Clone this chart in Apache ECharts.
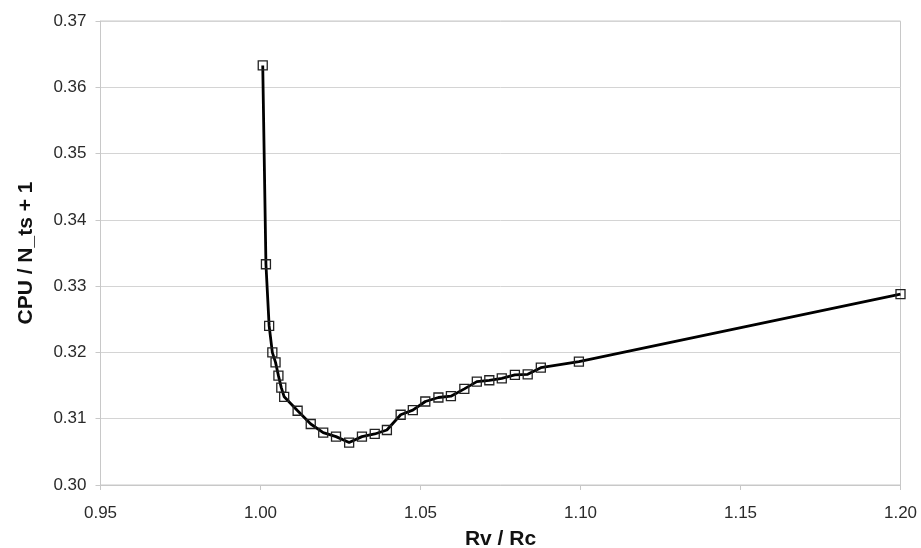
<!DOCTYPE html>
<html>
<head>
<meta charset="utf-8">
<script src="https://cdn.jsdelivr.net/npm/echarts@6/dist/echarts.min.js"></script>
<style>html,body{margin:0;padding:0;background:#fff;}#chart{width:921px;height:548px;}</style>
</head>
<body>
<div id="chart"></div>
<script>
const rvRc = [1.0007, 1.0017, 1.0027, 1.0037, 1.0047, 1.0056, 1.0065, 1.0074, 1.0116, 1.0157, 1.0196, 1.0236, 1.0277, 1.0317, 1.0357, 1.0395, 1.0438, 1.0476, 1.0515, 1.0556, 1.0595, 1.0637, 1.0676, 1.0715, 1.0754, 1.0795, 1.0835, 1.0876, 1.0995, 1.2000];
const cpu  = [0.3633, 0.3333, 0.3240, 0.3200, 0.3185, 0.3165, 0.3147, 0.3133, 0.3112, 0.3092, 0.3079, 0.3073, 0.3064, 0.3073, 0.3077, 0.3083, 0.3106, 0.3113, 0.3126, 0.3132, 0.3134, 0.3145, 0.3156, 0.3158, 0.3161, 0.3166, 0.3167, 0.3177, 0.3186, 0.3288];
const xTitle = 'Rv / Rc';
const yTitle = 'CPU / N_ts + 1';

const chart = echarts.init(document.getElementById('chart'));
const font = '"Liberation Sans", Arial, sans-serif';
chart.setOption({
  animation: false,
  backgroundColor: '#fff',
  grid: { left: 100.5, right: 20.5, top: 21, bottom: 63, containLabel: false, outerBoundsMode: 'none', show: true, borderColor: '#c8c8c8', borderWidth: 1, backgroundColor: 'transparent' },
  xAxis: {
    type: 'value', min: 0.95, max: 1.2, interval: 0.05,
    name: xTitle, nameLocation: 'middle', nameGap: 44,
    nameTextStyle: { fontFamily: font, fontSize: 21, fontWeight: 'bold', color: '#111' },
    axisLine: { show: true, lineStyle: { color: '#c8c8c8', width: 1 } },
    axisTick: { show: true, length: 5, lineStyle: { color: '#c8c8c8' } },
    axisLabel: { fontFamily: font, fontSize: 17, color: '#2a2a2a', margin: 20, formatter: v => v.toFixed(2) },
    splitLine: { show: false }
  },
  yAxis: {
    type: 'value', min: 0.30, max: 0.37, interval: 0.01,
    name: yTitle, nameLocation: 'middle', nameGap: 64, nameRotate: 90,
    nameTextStyle: { fontFamily: font, fontSize: 21, fontWeight: 'bold', color: '#111' },
    axisLine: { show: true, lineStyle: { color: '#c8c8c8', width: 1 } },
    axisTick: { show: true, length: 5, lineStyle: { color: '#c8c8c8' } },
    axisLabel: { fontFamily: font, fontSize: 17, color: '#2a2a2a', margin: 14, formatter: v => v.toFixed(2) },
    splitLine: { show: true, lineStyle: { color: '#d4d4d4', width: 1 } }
  },
  series: [{
    type: 'line',
    data: rvRc.map((x, i) => [x, cpu[i]]),
    smooth: false,
    symbol: 'rect',
    symbolSize: 9,
    showAllSymbol: true,
    lineStyle: { color: '#000', width: 2.8 },
    itemStyle: { color: 'rgba(255,255,255,0)', borderColor: '#222', borderWidth: 1.3 }
  }]
});
</script>
</body>
</html>
